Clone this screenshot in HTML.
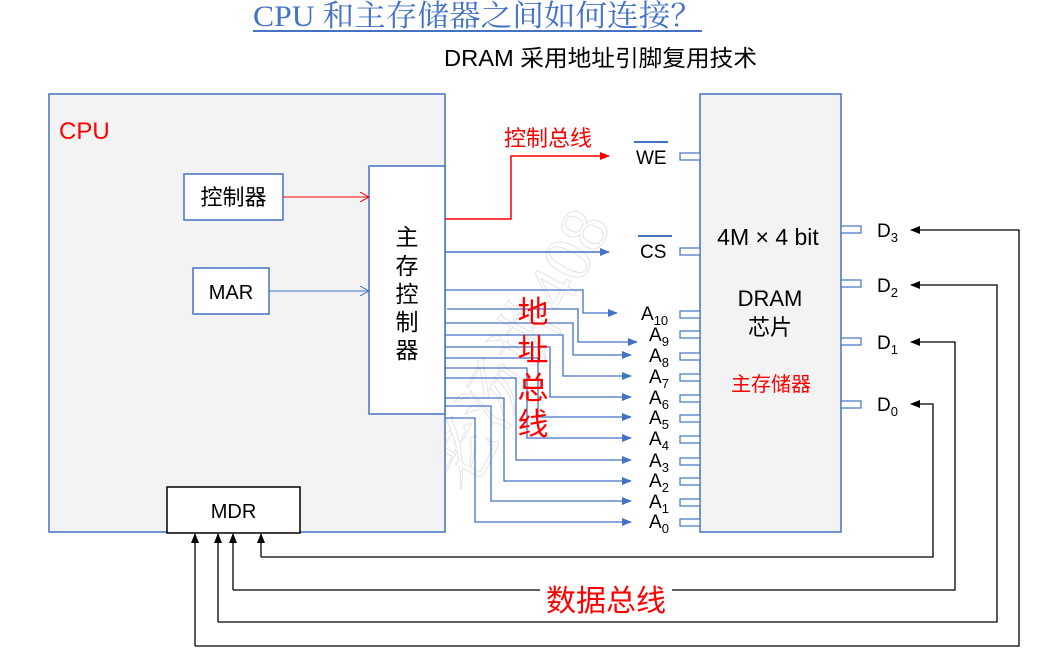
<!DOCTYPE html>
<html><head><meta charset="utf-8"><style>
html,body{margin:0;padding:0;background:#fff;}
svg{display:block;font-family:"Liberation Sans","Noto Sans CJK SC",sans-serif;}
</style></head><body>
<svg width="1040" height="658" viewBox="0 0 1040 658" xmlns="http://www.w3.org/2000/svg">
<defs>
<marker id="bl" markerWidth="10" markerHeight="8" refX="9" refY="4" orient="auto" markerUnits="userSpaceOnUse"><path d="M0,0 L10,4 L0,8 z" fill="#4472c4"/></marker>
<marker id="rd" markerWidth="10" markerHeight="8" refX="9" refY="4" orient="auto" markerUnits="userSpaceOnUse"><path d="M0,0 L10,4 L0,8 z" fill="#ff0000"/></marker>
<marker id="bk" markerWidth="10" markerHeight="8" refX="9" refY="4" orient="auto" markerUnits="userSpaceOnUse"><path d="M0,0 L10,4 L0,8 z" fill="#000"/></marker>
<marker id="ob" markerWidth="10" markerHeight="10" refX="9" refY="5" orient="auto" markerUnits="userSpaceOnUse"><path d="M0,0 L9,5 L0,10" fill="none" stroke="#4472c4"/></marker>
<marker id="or" markerWidth="10" markerHeight="10" refX="9" refY="5" orient="auto" markerUnits="userSpaceOnUse"><path d="M0,0 L9,5 L0,10" fill="none" stroke="#ff0000"/></marker>
</defs>
<text x="253" y="26" font-family="Liberation Serif,Noto Serif CJK SC,serif" font-size="30" fill="#4472c4" textLength="449" lengthAdjust="spacingAndGlyphs">CPU 和主存储器之间如何连接？</text>
<line x1="253" y1="31" x2="702" y2="31" stroke="#4472c4" stroke-width="2"/>
<text x="444" y="66" font-size="23" fill="#000" textLength="313" lengthAdjust="spacingAndGlyphs">DRAM 采用地址引脚复用技术</text>

<text x="540" y="360" font-family="Liberation Serif,Noto Serif CJK SC,serif" font-size="68" fill="none" stroke="#e4e4e4" stroke-width="1" text-anchor="middle" transform="rotate(-62 540 360)">老汤讲408</text>

<rect x="49" y="94" width="396" height="438" fill="#f2f2f2" fill-opacity="0.92" stroke="#4472c4" stroke-width="1.5"/>
<text x="59" y="139" font-size="24" fill="#ff0000">CPU</text>
<rect x="184" y="174" width="99" height="46" fill="#fff" stroke="#4472c4" stroke-width="1.5"/>
<text x="233.5" y="205" font-size="22" text-anchor="middle">控制器</text>
<rect x="193" y="268" width="76" height="46" fill="#fff" stroke="#4472c4" stroke-width="1.5"/>
<text x="231" y="299" font-size="20" text-anchor="middle">MAR</text>
<rect x="369" y="166" width="76" height="248" fill="#fff" stroke="#4472c4" stroke-width="1.5"/>
<g font-size="23" text-anchor="middle"><text x="407" y="245">主</text><text x="407" y="274">存</text><text x="407" y="302">控</text><text x="407" y="330">制</text><text x="407" y="358">器</text></g>
<rect x="167" y="487" width="133" height="46" fill="#fff" stroke="#000" stroke-width="1.5"/>
<text x="233.5" y="518" font-size="20" text-anchor="middle">MDR</text>
<line x1="283" y1="197" x2="369" y2="197" stroke="#ff0000" marker-end="url(#or)"/>
<line x1="269" y1="291" x2="369" y2="291" stroke="#4472c4" marker-end="url(#ob)"/>

<rect x="700" y="94" width="141" height="438" fill="#f2f2f2" fill-opacity="0.92" stroke="#4472c4" stroke-width="1.5"/>
<text x="768" y="245" font-size="23" text-anchor="middle">4M × 4 bit</text>
<text x="770" y="306" font-size="22" text-anchor="middle">DRAM</text>
<text x="770" y="335" font-size="22" text-anchor="middle">芯片</text>
<text x="771" y="391" font-size="20" fill="#ff0000" text-anchor="middle">主存储器</text>

<g fill="#fff" stroke="#4472c4" stroke-width="1.2">
<rect x="680" y="153" width="20" height="7"/><rect x="680" y="248" width="20" height="7"/>
<rect x="680" y="311" width="20" height="7"/><rect x="680" y="331" width="20" height="7"/><rect x="680" y="353" width="20" height="7"/><rect x="680" y="374" width="20" height="7"/><rect x="680" y="395" width="20" height="7"/><rect x="680" y="415" width="20" height="7"/><rect x="680" y="436" width="20" height="7"/><rect x="680" y="458" width="20" height="7"/><rect x="680" y="478" width="20" height="7"/><rect x="680" y="499" width="20" height="7"/><rect x="680" y="519" width="20" height="7"/>
<rect x="841" y="226" width="20" height="7"/><rect x="841" y="280" width="20" height="7"/><rect x="841" y="338" width="20" height="7"/><rect x="841" y="401" width="20" height="7"/>
</g>
<text x="636" y="164" font-size="19">WE</text><line x1="634" y1="142" x2="668" y2="142" stroke="#4472c4" stroke-width="2"/>
<text x="640" y="258" font-size="19">CS</text><line x1="638" y1="236" x2="672" y2="236" stroke="#4472c4" stroke-width="2"/>
<g font-size="19">
<text x="641" y="320">A<tspan font-size="13" dy="5">10</tspan></text>
<text x="649" y="341">A<tspan font-size="13" dy="5">9</tspan></text>
<text x="649" y="362">A<tspan font-size="13" dy="5">8</tspan></text>
<text x="649" y="383">A<tspan font-size="13" dy="5">7</tspan></text>
<text x="649" y="404">A<tspan font-size="13" dy="5">6</tspan></text>
<text x="649" y="424">A<tspan font-size="13" dy="5">5</tspan></text>
<text x="649" y="445">A<tspan font-size="13" dy="5">4</tspan></text>
<text x="649" y="467">A<tspan font-size="13" dy="5">3</tspan></text>
<text x="649" y="487">A<tspan font-size="13" dy="5">2</tspan></text>
<text x="649" y="508">A<tspan font-size="13" dy="5">1</tspan></text>
<text x="649" y="528">A<tspan font-size="13" dy="5">0</tspan></text>
<text x="877" y="237">D<tspan font-size="13" dy="5">3</tspan></text>
<text x="877" y="292">D<tspan font-size="13" dy="5">2</tspan></text>
<text x="877" y="349">D<tspan font-size="13" dy="5">1</tspan></text>
<text x="877" y="411">D<tspan font-size="13" dy="5">0</tspan></text>
</g>

<polyline points="445,219 511,219 511,156 609,156" fill="none" stroke="#ff0000" stroke-width="1.5" marker-end="url(#rd)"/>
<text x="504" y="146" font-size="22" fill="#ff0000">控制总线</text>
<line x1="445" y1="252" x2="609" y2="252" stroke="#4472c4" stroke-width="1.5" marker-end="url(#bl)"/>

<g fill="none" stroke="#4472c4" stroke-width="1.3">
<polyline points="445,290 583,290 583,313 617,313" marker-end="url(#bl)"/>
<polyline points="447,309 578,309 578,342 637,342" marker-end="url(#bl)"/>
<polyline points="445,323 573,323 573,355 631,355" marker-end="url(#bl)"/>
<polyline points="445,335 563,335 563,376 631,376" marker-end="url(#bl)"/>
<polyline points="445,347 550,347 550,397 631,397" marker-end="url(#bl)"/>
<polyline points="445,358 538,358 538,417 631,417" marker-end="url(#bl)"/>
<polyline points="445,368 527,368 527,438 631,438" marker-end="url(#bl)"/>
<polyline points="445,378 516,378 516,460 631,460" marker-end="url(#bl)"/>
<polyline points="445,398 504,398 504,481 631,481" marker-end="url(#bl)"/>
<polyline points="445,406 491,406 491,501 631,501" marker-end="url(#bl)"/>
<polyline points="445,418 475,418 475,522 631,522" marker-end="url(#bl)"/>
</g>
<g font-size="31" fill="#ff0000" text-anchor="middle"><text x="533" y="323">地</text><text x="533" y="361">址</text><text x="533" y="399">总</text><text x="533" y="435">线</text></g>

<g fill="none" stroke="#000" stroke-width="1.3">
<polyline points="261,557 933,557 933,404 911,404" marker-end="url(#bk)"/>
<polyline points="233,590 955,590 955,342 911,342" marker-end="url(#bk)"/>
<polyline points="218,622 997,622 997,285 911,285" marker-end="url(#bk)"/>
<polyline points="195,646 1019,646 1019,230 911,230" marker-end="url(#bk)"/>
<line x1="261" y1="557" x2="261" y2="534" marker-end="url(#bk)"/>
<line x1="233" y1="590" x2="233" y2="534" marker-end="url(#bk)"/>
<line x1="218" y1="622" x2="218" y2="534" marker-end="url(#bk)"/>
<line x1="195" y1="646" x2="195" y2="534" marker-end="url(#bk)"/>
</g>
<rect x="540" y="582" width="132" height="34" fill="#fff"/>
<text x="606" y="611" font-size="30" fill="#ff0000" text-anchor="middle">数据总线</text>
</svg>
</body></html>
